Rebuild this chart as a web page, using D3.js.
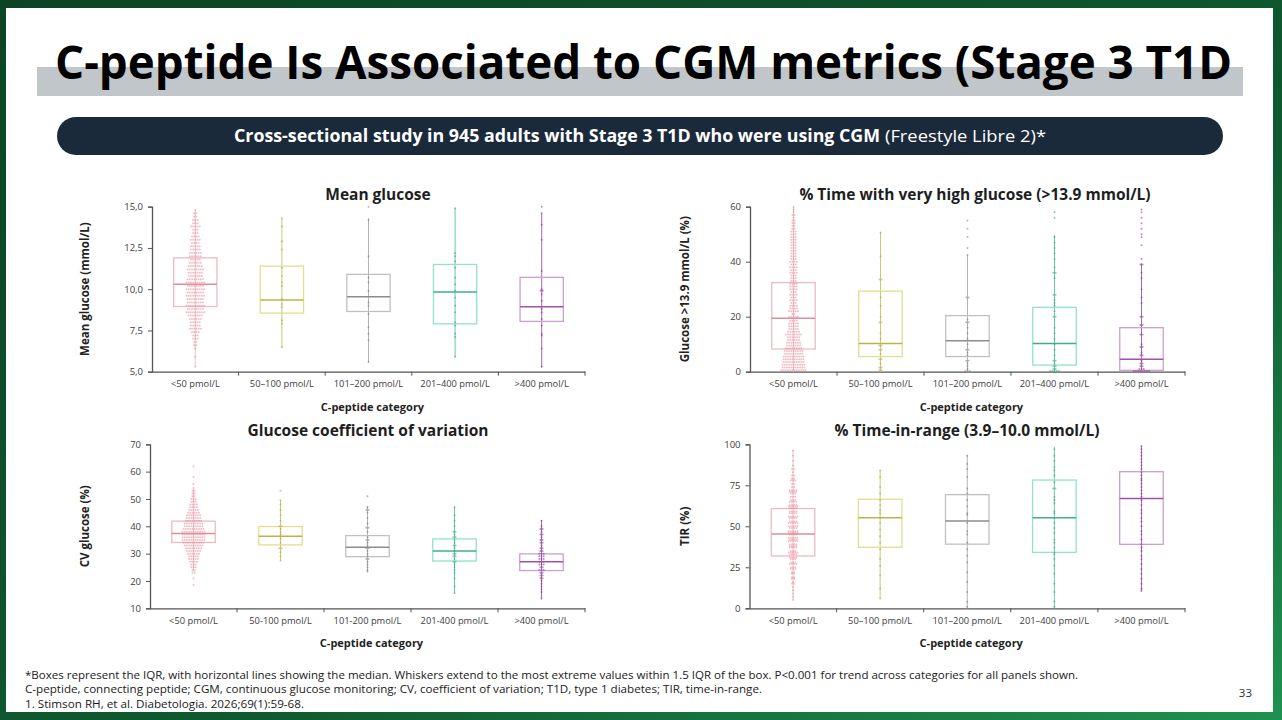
<!DOCTYPE html>
<html>
<head>
<meta charset="utf-8">
<script src="https://cdn.jsdelivr.net/npm/d3@7"></script>
<style>
  html, body { margin: 0; padding: 0; background: #fff; }
  svg { display: block; font-family: "Open Sans", "Noto Sans", sans-serif; }
</style>
</head>
<body>
<svg id="slide" width="1282" height="720"></svg>
<script>
// categories
var catsDash = ['<50 pmol/L', '50\u2013100 pmol/L', '101\u2013200 pmol/L', '201\u2013400 pmol/L', '>400 pmol/L'];
var catsHyphen = ['<50 pmol/L', '50-100 pmol/L', '101-200 pmol/L', '201-400 pmol/L', '>400 pmol/L'];

// box stats per category: [low whisker, Q1, median, Q3, high whisker]
var meanGlucoseBox = [[5.3, 8.95, 10.3, 11.9, 14.8], [6.45, 8.55, 9.35, 11.4, 14.3], [5.55, 8.65, 9.55, 10.9, 14.3], [5.9, 7.9, 9.83, 11.5, 14.9], [5.27, 8.05, 8.94, 10.72, 14.6]];
var veryHighBox = [[0, 8.25, 19.4, 32.4, 60], [0, 5.5, 10.3, 29.3, 50.9], [0, 5.5, 11.3, 20.4, 42.4], [0, 2.4, 10.3, 23.4, 49.7], [0, 0.5, 4.5, 16, 39.4]];
var cvBox = [[23.4, 34.1, 37.4, 41.9, 53.9], [27.4, 33.2, 36.4, 39.9, 49.6], [23.4, 28.9, 32.3, 36.6, 47.5], [15.5, 27.3, 31, 35.4, 47.2], [14.3, 23.8, 27, 29.9, 42.3]];
var tirBox = [[5, 31.9, 45.3, 60.8, 96.5], [6.1, 37.2, 55.2, 66.5, 84.3], [0, 39.1, 53.2, 69.3, 93.5], [0, 34.1, 55.2, 78.2, 98.5], [10.7, 39, 67, 83.3, 99]];

// individual values, as [value, number of dots at that level]
var meanGlucoseDots = [
  [[14.8,1],[14.6,2],[14.4,2],[14.2,3],[14.0,3],[13.8,5],[13.6,3],[13.4,3],[13.2,4],[13.0,5],[12.8,4],[12.6,5],[12.4,5],[12.2,6],[12.0,6],[11.8,5],[11.6,6],[11.4,7],[11.2,8],[11.0,7],[10.8,7],[10.6,8],[10.4,9],[10.2,8],[10.0,9],[9.8,8],[9.6,9],[9.4,8],[9.2,8],[9.0,9],[8.8,8],[8.6,9],[8.4,7],[8.2,6],[8.0,5],[7.8,5],[7.6,6],[7.4,4],[7.2,3],[7.0,3],[6.8,2],[6.6,2],[6.4,1],[5.9,1],[5.3,1]],
  [[14.3,1],[13.8,1],[12.9,1],[12.4,1],[11.3,1],[10.8,1],[10.4,1],[10.2,1],[9.4,1],[9.1,1],[8.9,1],[8.1,1],[7.9,1],[6.5,1]],
  [[15.0,1],[14.2,1],[12.0,1],[10.7,1],[10.4,1],[9.9,1],[9.2,1],[9.0,1],[8.5,1],[7.7,1],[7.3,1],[6.9,1],[5.6,1]],
  [[14.9,1],[12.2,1],[12.0,1],[11.7,1],[11.3,1],[10.7,1],[10.3,1],[9.9,1],[9.5,1],[9.0,1],[8.6,1],[8.0,1],[7.8,1],[7.3,1],[7.1,1],[5.9,1]],
  [[15.0,1],[14.6,1],[13.9,1],[13.0,1],[11.1,1],[10.0,1],[9.9,2],[9.7,1],[9.3,1],[8.8,1],[8.6,1],[8.2,1],[7.8,1],[7.3,1],[7.2,1],[6.4,1],[5.3,1]]
];
var veryHighDots = [
  [[0.5,12],[1.5,11],[2.5,11],[3.5,10],[4.5,10],[5.5,10],[6.5,9],[7.5,9],[8.5,8],[9.5,7],[10.5,7],[11.5,6],[12.5,6],[13.5,8],[14.5,6],[15.5,5],[16.5,5],[17.5,5],[18.5,4],[20,5],[21,2],[22,5],[23,4],[24,4],[25,3],[26,4],[27,3],[28,4],[29,3],[30,4],[31,4],[32,4],[33,3],[34,3],[35,3],[36,4],[37,3],[38,4],[39,3],[40,4],[41,3],[42,3],[43,3],[44,3],[45,3],[46,3],[47,3],[48,3],[49,3],[50,3],[51,3],[52,2],[53,2],[54,2],[55,2],[56,1],[57,2],[58,1],[59,1],[60,1]],
  [[50.5,1],[42,1],[33.5,2],[27,1],[24,1],[20,1],[18,2],[14,1],[12,1],[9.5,2],[8,2],[6.5,1],[4.5,2],[3,1],[1.5,2],[0.5,2]],
  [[55,1],[52,1],[49,1],[45,1],[42.4,1],[27,2],[19,1],[18,2],[16,1],[14,1],[12,1],[10,1],[8,2],[7,1],[6,1],[4,2],[3,1],[2,1],[1,1],[0.3,3]],
  [[58,1],[56,1],[49,1],[47,1],[45,1],[43,1],[41,1],[38,1],[36,2],[34,1],[28,2],[26,1],[25,1],[24,1],[22,1],[20,2],[16,1],[14,1],[12,1],[10,1],[8,1],[6,1],[4,2],[3,1],[2,2],[1,2],[0.3,5]],
  [[59,1],[58,1],[56,1],[54,1],[52,1],[50,1],[49,1],[46,1],[41,1],[39,2],[36,1],[34,1],[30,1],[27,1],[25,1],[20,2],[17,2],[13.5,2],[10,1],[9,2],[7,1],[6,2],[4,1],[3,2],[2,2],[1,3],[0.3,8]]
];
var cvDots = [
  [[62,1],[58,1],[55.5,1],[54,1],[53,2],[52,2],[51,2],[50,3],[49,3],[48,4],[47,4],[46,5],[45,6],[44,7],[43,7],[42,8],[41,9],[40,9],[39,10],[38,11],[37,11],[36,11],[35,11],[34,10],[33,9],[32,8],[31,7],[30,6],[29,5],[28,5],[27,4],[26,3],[25,3],[24,2],[23,2],[21,1],[18.5,1]],
  [[53,1],[49.5,1],[48,1],[46,1],[44,1],[42,1],[40,2],[39,1],[38,1],[37,1],[35.5,1],[34,1],[32,2],[30.5,1],[29,1],[27.5,1]],
  [[51,1],[47,1],[46,2],[45,1],[43,1],[41,1],[39.5,2],[38,1],[36,1],[35,2],[34,1],[33,1],[32,2],[31,1],[30,1],[29,1],[28,2],[27,1],[26,1],[25,1],[24,1],[23.5,1]],
  [[47,1],[44,1],[42,1],[40,1],[38,2],[37,1],[36,2],[35,1],[34,1],[33,2],[32,1],[31,1],[30,2],[29,2],[28,1],[27,2],[26,1],[25,1],[24,1],[23,1],[21,1],[18,1],[15.5,1]],
  [[42,1],[40,1],[39,2],[38,1],[37,2],[36,1],[35,2],[34,2],[33,1],[32,2],[31,2],[30,3],[29,3],[28,3],[27,3],[26,3],[25,2],[24,3],[23,2],[22,2],[21,2],[20,1],[19,1],[18,1],[17,1],[16,1],[14,1],[13.5,1]]
];
var tirDots = [
  [[96,1],[93,1],[90,1],[87,1],[85,2],[83,1],[81,2],[79,2],[78,3],[76,2],[74,2],[72,4],[71,4],[70,3],[68,3],[66,3],[65,4],[63,4],[62,5],[61,4],[59,4],[58,4],[56,5],[55,4],[53,4],[52,5],[50,5],[49,4],[47,5],[46,5],[45,4],[43,5],[42,4],[41,5],[39,4],[38,4],[37,4],[35,3],[34,5],[33,4],[31,4],[30,3],[28,3],[27,4],[25,3],[24,3],[22,2],[21,2],[19,2],[18,2],[16,1],[15,2],[13,1],[11,1],[9,1],[7,1],[5,1]],
  [[84,1],[80,1],[74,1],[70,1],[66,1],[63,1],[60,1],[58,1],[55,1],[52,1],[48,1],[44,1],[40,1],[36,1],[30,1],[26,1],[20,1],[12,1],[6,1]],
  [[93,1],[88,1],[85,1],[80,1],[73,1],[70,1],[66,1],[62,1],[58,1],[57,1],[52,1],[47,1],[45,1],[40,1],[36,1],[32,1],[28,1],[22,1],[16,1],[10,1],[4,1],[1,1]],
  [[97,1],[93,1],[90,1],[86,1],[84,1],[81,1],[77,1],[73,2],[68,1],[66,1],[64,1],[59,1],[58,1],[55,1],[52,1],[49,1],[46,1],[42,1],[40,1],[37,1],[34,1],[33,1],[30,1],[26,1],[21,1],[15,1],[10,1],[4,1],[1,1]],
  [[99,1],[97,1],[95,1],[93,1],[91,1],[89,1],[87,1],[85,1],[83,1],[81,1],[79,1],[78,1],[76,1],[74,1],[72,1],[70,1],[68,1],[66,1],[63,1],[60,1],[58,1],[55,1],[53,1],[50,1],[47,1],[45,1],[42,1],[39,1],[37,1],[35,1],[32,1],[30,1],[27,1],[24,1],[21,1],[18,1],[15,1],[12,1],[10.5,1]]
];

// tick values
var meanGlucoseTicks = [5, 7.5, 10, 12.5, 15];
var veryHighTicks = [0, 20, 40, 60];
var cvTicks = [10, 20, 30, 40, 50, 60, 70];
var tirTicks = [0, 25, 50, 75, 100];

// per-category colours: box stroke, median, dots, whisker
var palette = [
  { box: '#ecbcc4', med: '#de8e9b', dot: '#e27082', wh: '#efc4cb' },
  { box: '#dfdf8e', med: '#b6b64a', dot: '#a6a63c', wh: '#caca74' },
  { box: '#c0c0c0', med: '#8c8c8c', dot: '#7a7a7a', wh: '#b4b4b4' },
  { box: '#93e2cb', med: '#3fae8f', dot: '#2f9f80', wh: '#66caaa' },
  { box: '#cc9fd2', med: '#a052a8', dot: '#8a2c92', wh: '#a868ae' }
];

var svg = d3.select('#slide');

// green frame + white slide
var grad = svg.append('defs').append('linearGradient').attr('id', 'frame')
  .attr('x1', 0).attr('x2', 1).attr('y1', 0).attr('y2', 1);
grad.append('stop').attr('offset', '0%').attr('stop-color', '#0b4424');
grad.append('stop').attr('offset', '60%').attr('stop-color', '#0f5a30');
grad.append('stop').attr('offset', '100%').attr('stop-color', '#1f9150');
svg.append('rect').attr('width', 1282).attr('height', 720).attr('fill', 'url(#frame)');
svg.append('rect').attr('x', 6).attr('y', 8).attr('width', 1267).attr('height', 704).attr('fill', '#fff');

// title
svg.append('rect').attr('x', 37).attr('y', 67).attr('width', 1206).attr('height', 29).attr('fill', '#c1c6ca');
svg.append('text').attr('x', 55).attr('y', 79)
  .attr('font-size', 47).attr('font-weight', 'bold').attr('fill', '#000')
  .attr('textLength', 1177).attr('lengthAdjust', 'spacingAndGlyphs')
  .text('C-peptide Is Associated to CGM metrics (Stage 3 T1D');

// subtitle pill
svg.append('rect').attr('x', 57).attr('y', 117).attr('width', 1166).attr('height', 38)
  .attr('rx', 19).attr('fill', '#1b2a3b');
svg.append('text').attr('x', 234).attr('y', 142)
  .attr('font-size', 17).attr('font-weight', 'bold').attr('fill', '#fff')
  .attr('textLength', 646).attr('lengthAdjust', 'spacingAndGlyphs')
  .text('Cross-sectional study in 945 adults with Stage 3 T1D who were using CGM');
svg.append('text').attr('x', 885).attr('y', 142)
  .attr('font-size', 17).attr('fill', '#fff')
  .attr('textLength', 161).attr('lengthAdjust', 'spacingAndGlyphs')
  .text('(Freestyle Libre 2)*');

var panels = [
  { title: 'Mean glucose', titleX: 378, titleY: 200, yLabel: 'Mean glucose (mmol/L)', labelX: 89,
    x0: 152, x1: 585, top: 206.7, bottom: 371.7, domain: [5, 15], ticks: meanGlucoseTicks,
    fmt: function(v) { return d3.format('.1f')(v).replace('.', ','); },
    cats: catsDash, box: meanGlucoseBox, dots: meanGlucoseDots },
  { title: '% Time with very high glucose (>13.9 mmol/L)', titleX: 975, titleY: 200, yLabel: 'Glucose >13.9 mmol/L (%)', labelX: 689,
    x0: 750, x1: 1185, top: 206.7, bottom: 371.7, domain: [0, 60], ticks: veryHighTicks,
    fmt: d3.format('d'), cats: catsDash, box: veryHighBox, dots: veryHighDots },
  { title: 'Glucose coefficient of variation', titleX: 368, titleY: 436, yLabel: 'CV glucose (%)', labelX: 89,
    x0: 150, x1: 585, top: 444.3, bottom: 608.3, domain: [10, 70], ticks: cvTicks,
    fmt: d3.format('d'), cats: catsHyphen, box: cvBox, dots: cvDots },
  { title: '% Time-in-range (3.9\u201310.0 mmol/L)', titleX: 967, titleY: 436, yLabel: 'TIR (%)', labelX: 689,
    x0: 749.5, x1: 1185, top: 444.3, bottom: 608.3, domain: [0, 100], ticks: tirTicks,
    fmt: d3.format('d'), cats: catsDash, box: tirBox, dots: tirDots }
];

panels.forEach(drawPanel);

function drawPanel(p) {
  var g = svg.append('g');
  var x = d3.scaleBand().domain(d3.range(p.cats.length)).range([p.x0, p.x1]).padding(0);
  var y = d3.scaleLinear().domain(p.domain).range([p.bottom, p.top]);
  var bw = x.bandwidth() * 0.5;

  g.append('text').attr('x', p.titleX).attr('y', p.titleY)
    .attr('text-anchor', 'middle').attr('font-size', 15.5).attr('font-weight', 'bold')
    .attr('fill', '#1e1e1e').text(p.title);

  // y axis
  var ya = g.append('g').attr('transform', 'translate(' + p.x0 + ',0)')
    .call(d3.axisLeft(y).tickValues(p.ticks).tickFormat(p.fmt).tickSize(4).tickPadding(5));
  ya.select('.domain').attr('stroke', '#555').attr('stroke-width', 1.3);
  ya.selectAll('.tick line').attr('stroke', '#555');
  ya.selectAll('.tick text').attr('font-size', 9.5).attr('fill', '#404040')
    .attr('font-family', '"Open Sans", sans-serif');

  // x axis: labels centered in bands, tick marks at band edges
  var xa = g.append('g').attr('transform', 'translate(0,' + p.bottom + ')')
    .call(d3.axisBottom(x).tickFormat(function(i) { return p.cats[i]; }).tickSize(0).tickPadding(9));
  xa.select('.domain').attr('stroke', '#555').attr('stroke-width', 1.3);
  xa.selectAll('.tick text').attr('font-size', 9.3).attr('fill', '#404040')
    .attr('font-family', '"Open Sans", sans-serif');
  g.selectAll('.edge').data(d3.range(1, p.cats.length + 1)).join('line')
    .attr('x1', function(i) { return x(i - 1) + x.bandwidth(); })
    .attr('x2', function(i) { return x(i - 1) + x.bandwidth(); })
    .attr('y1', p.bottom).attr('y2', p.bottom + 4)
    .attr('stroke', '#555');

  g.append('text').attr('x', (p.x0 + p.x1) / 2 + 4).attr('y', p.bottom + 39)
    .attr('text-anchor', 'middle').attr('font-size', 11).attr('font-weight', 'bold')
    .attr('fill', '#222').text('C-peptide category');
  g.append('text')
    .attr('transform', 'translate(' + p.labelX + ',' + ((p.top + p.bottom) / 2) + ') rotate(-90)')
    .attr('text-anchor', 'middle').attr('font-size', 11.5).attr('font-weight', 'bold')
    .attr('fill', '#222').text(p.yLabel);

  p.box.forEach(function(s, i) {
    var c = palette[i];
    var cx = x(i) + x.bandwidth() / 2;
    var grp = g.append('g');
    // whisker
    grp.append('line').attr('x1', cx).attr('x2', cx)
      .attr('y1', y(s[0])).attr('y2', y(s[4]))
      .attr('stroke', c.wh).attr('stroke-width', 1);
    // box
    grp.append('rect').attr('x', cx - bw / 2).attr('y', y(s[3]))
      .attr('width', bw).attr('height', y(s[1]) - y(s[3]))
      .attr('fill', 'none').attr('stroke', c.box).attr('stroke-width', 1.3);
    // dots
    var pts = [];
    p.dots[i].forEach(function(r) {
      for (var k = 0; k < r[1]; k++) pts.push({ v: r[0], dx: (k - (r[1] - 1) / 2) * 2.2 });
    });
    grp.selectAll('circle').data(pts).join('circle')
      .attr('cx', function(d) { return cx + d.dx; })
      .attr('cy', function(d) { return y(d.v); })
      .attr('r', 1)
      .attr('fill', c.dot).attr('fill-opacity', i === 0 ? 0.45 : 0.55);
    // median
    grp.append('line').attr('x1', cx - bw / 2).attr('x2', cx + bw / 2)
      .attr('y1', y(s[2])).attr('y2', y(s[2]))
      .attr('stroke', c.med).attr('stroke-width', 1.5);
  });
}

// footnotes
var foot = [
  { t: '*Boxes represent the IQR, with horizontal lines showing the median. Whiskers extend to the most extreme values within 1.5 IQR of the box. P<0.001 for trend across categories for all panels shown.', y: 679, w: 1053 },
  { t: 'C-peptide, connecting peptide; CGM, continuous glucose monitoring; CV, coefficient of variation; T1D, type 1 diabetes; TIR, time-in-range.', y: 693, w: 737 },
  { t: '1. Stimson RH, et al. Diabetologia. 2026;69(1):59-68.', y: 708, w: 279 }
];
svg.selectAll('.foot').data(foot).join('text')
  .attr('x', 25).attr('y', function(d) { return d.y; })
  .attr('font-size', 11.5).attr('fill', '#1a1a1a')
  .attr('textLength', function(d) { return d.w; }).attr('lengthAdjust', 'spacingAndGlyphs')
  .text(function(d) { return d.t; });
svg.append('text').attr('x', 1252).attr('y', 697).attr('text-anchor', 'end')
  .attr('font-size', 11.5).attr('fill', '#333').text('33');
</script>
</body>
</html>
